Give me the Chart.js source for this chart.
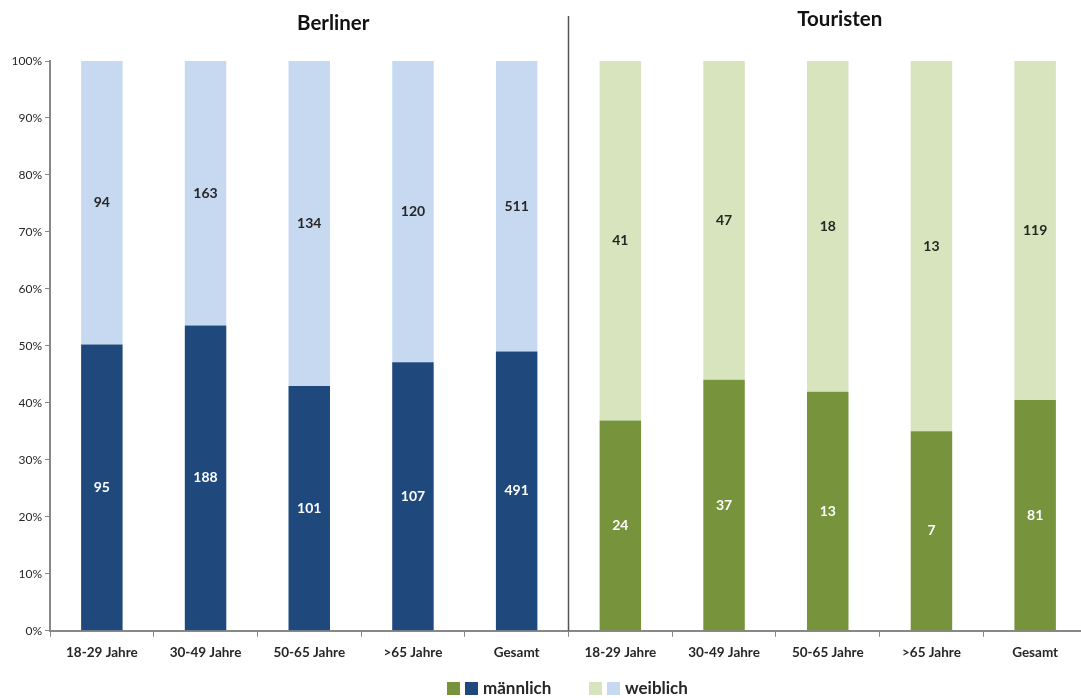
<!DOCTYPE html>
<html>
<head>
<meta charset="utf-8">
<script src="https://cdn.jsdelivr.net/npm/chart.js@4"></script>
<style>
  body { margin: 0; background: #fff; }
  #wrap { position: relative; width: 1081px; height: 698px; overflow: hidden; }
  #chart { position: absolute; left: 0; top: 0; }
  .item {
    position: absolute; top: 677px; white-space: nowrap;
    font: bold 17px Lato, "Liberation Sans", sans-serif; color: #262626;
  }
  .item i { display: inline-block; width: 13px; height: 13px; margin-right: 5px; vertical-align: -1px; }
</style>
</head>
<body>
<div id="wrap">
  <canvas id="chart" width="1087" height="698"></canvas>
  <div class="item" style="left:447px"><i style="background:#77933C"></i><i style="background:#1F497D"></i>männlich</div>
  <div class="item" style="left:589px"><i style="background:#D7E4BD"></i><i style="background:#C6D9F1"></i>weiblich</div>
</div>
<script>
const categories = ["18-29 Jahre", "30-49 Jahre", "50-65 Jahre", ">65 Jahre", "Gesamt",
                    "18-29 Jahre", "30-49 Jahre", "50-65 Jahre", ">65 Jahre", "Gesamt"];
const groups = ["Berliner", "Touristen"];
// counts per age group: first five Berliner, last five Touristen
const maleCounts   = [95, 188, 101, 107, 491, 24, 37, 13, 7, 81];
const femaleCounts = [94, 163, 134, 120, 511, 41, 47, 18, 13, 119];
const yTicks = [0, 10, 20, 30, 40, 50, 60, 70, 80, 90, 100];

const darkColors  = ["#1F497D", "#77933C"];
const lightColors = ["#C6D9F1", "#D7E4BD"];
const groupOf = i => (i < 5 ? 0 : 1);

const malePct   = maleCounts.map((m, i) => m / (m + femaleCounts[i]) * 100);
const femalePct = femaleCounts.map((f, i) => f / (f + maleCounts[i]) * 100);

const FONT = "Lato, 'Liberation Sans', sans-serif";

// count labels in the middle of each segment
const countLabels = {
  id: "countLabels",
  afterDatasetsDraw(chart) {
    const ctx = chart.ctx;
    ctx.save();
    ctx.font = "bold 14px " + FONT;
    ctx.textAlign = "center";
    ctx.textBaseline = "middle";
    chart.data.datasets.forEach((ds, di) => {
      chart.getDatasetMeta(di).data.forEach((bar, i) => {
        const counts = di === 0 ? maleCounts : femaleCounts;
        ctx.fillStyle = di === 0 ? "#ffffff" : "#262626";
        ctx.fillText(String(counts[i]), bar.x, (bar.y + bar.base) / 2);
      });
    });
    ctx.restore();
  }
};

// group titles and the separator between them
const groupDecor = {
  id: "groupDecor",
  afterDraw(chart) {
    const ctx = chart.ctx;
    const x = chart.scales.x;
    const area = chart.chartArea;
    const sepX = (x.getPixelForValue(4) + x.getPixelForValue(5)) / 2;
    ctx.save();
    ctx.strokeStyle = "#555";
    ctx.lineWidth = 1.5;
    ctx.beginPath();
    ctx.moveTo(sepX, 16);
    ctx.lineTo(sepX, area.bottom);
    ctx.stroke();
    ctx.font = "bold 20.5px " + FONT;
    ctx.fillStyle = "#111";
    ctx.textAlign = "center";
    ctx.textBaseline = "middle";
    ctx.fillText(groups[0], x.getPixelForValue(2) + 24, 23);
    ctx.fillText(groups[1], x.getPixelForValue(7) + 12, 19);
    ctx.restore();
  }
};

new Chart(document.getElementById("chart"), {
  type: "bar",
  data: {
    labels: categories,
    datasets: [
      {
        label: "männlich",
        data: malePct,
        backgroundColor: categories.map((c, i) => darkColors[groupOf(i)]),
        barPercentage: 0.4,
        categoryPercentage: 1
      },
      {
        label: "weiblich",
        data: femalePct,
        backgroundColor: categories.map((c, i) => lightColors[groupOf(i)]),
        barPercentage: 0.4,
        categoryPercentage: 1
      }
    ]
  },
  options: {
    responsive: false,
    animation: false,
    layout: { padding: { top: 61, bottom: 29, left: 0, right: 0 } },
    plugins: { legend: { display: false }, tooltip: { enabled: false } },
    scales: {
      x: {
        stacked: true,
        offset: true,
        border: { color: "#888", width: 2 },
        grid: { offset: true, drawOnChartArea: false, color: "#888", tickLength: 6, lineWidth: 1 },
        ticks: { color: "#262626", font: { family: FONT, size: 13.5, weight: "bold" }, padding: 8, maxRotation: 0 }
      },
      y: {
        stacked: true,
        min: 0,
        max: 100,
        afterFit(scale) { scale.width = 50; },
        afterBuildTicks(scale) { scale.ticks = yTicks.map(v => ({ value: v })); },
        border: { color: "#888", width: 2 },
        grid: { drawOnChartArea: false, color: "#888", tickLength: 5 },
        ticks: {
          color: "#262626",
          font: { family: FONT, size: 12 },
          padding: 3,
          callback: v => v + "%"
        }
      }
    }
  },
  plugins: [countLabels, groupDecor]
});
</script>
</body>
</html>
